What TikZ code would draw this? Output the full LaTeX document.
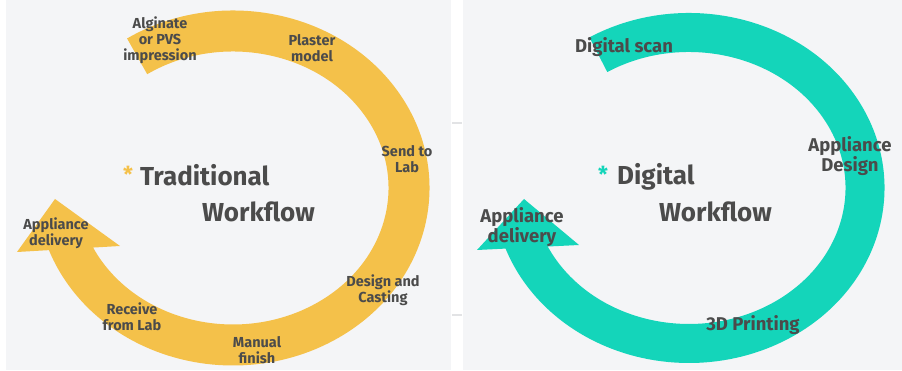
\documentclass[tikz,border=0pt]{standalone}
\usepackage{fontspec}
\setmainfont{Fira Sans}
\definecolor{panel}{HTML}{F4F5F7}
\definecolor{yel}{HTML}{F4C14A}
\definecolor{teal}{HTML}{14D5BA}
\definecolor{txt}{HTML}{4B4B4B}
\definecolor{tickc}{HTML}{E2E3E5}
\begin{document}
\begin{tikzpicture}[x=1pt,y=-1pt,
  lbl/.style={font=\bfseries\fontsize{14.5}{16}\selectfont, text=txt, align=center, inner sep=0pt},
  lblbig/.style={font=\bfseries\fontsize{18.5}{20}\selectfont, text=txt, align=center, inner sep=0pt},
  title/.style={font=\bfseries\fontsize{26}{30}\selectfont, text=txt, inner sep=0pt, anchor=base west},
  star/.style={font=\bfseries\fontsize{22}{24}\selectfont, inner sep=0pt},
  band/.style={line width=#1, line cap=butt}]
\useasboundingbox (0,0) rectangle (902,371);
\fill[white] (0,0) rectangle (902,371);
\fill[panel] (6,0) rectangle (451,370);
\fill[panel] (463,0) rectangle (902,370);
\draw[tickc, line width=1.5] (452,123) -- (462,123) (452,315) -- (462,315);
% left cycle
\draw[yel, band=41] (233,188) ++(-123:176 and 157) arc[start angle=-123, end angle=162, x radius=176, y radius=157];
\fill[yel] (17,252) -- (55,199) -- (120,246) -- cycle;
% right cycle
\draw[teal, band=39] (689,188) ++(-121:176 and 155.5) arc[start angle=-121, end angle=162, x radius=176, y radius=155.5];
\fill[teal] (477,250) -- (524,199) -- (579,245) -- cycle;
% left labels
\node[lbl] (al) at (160,40) {Alginate\\or PVS\\impression};
\node[lbl] (pm) at (312,48) {Plaster\\model};
\node[lbl] (sl) at (407,159) {Send to\\Lab};
\node[lbl] (dc) at (383,290) {Design and\\Casting};
\node[lbl] (mf) at (257,350) {Manual\\finish};
\node[lbl] (rl) at (132,317) {Receive\\from Lab};
\node[lbl] (ad) at (56,233) {Appliance\\delivery};
\node[star, text=yel] (s1) at (128,174) {*};
\node[title] (t1) at (140,186) {Traditional};
\node[title] (t2) at (202,222) {Workflow};
% right labels
\node[lblbig] (ds) at (624,47) {Digital scan};
\node[lblbig] (apd) at (850,156) {Appliance\\Design};
\node[lblbig] (pr) at (753,325) {3D Printing};
\node[lblbig] (ad2) at (522,227) {Appliance\\delivery};
\node[star, text=teal] (s2) at (603,174) {*};
\node[title] (t3) at (617,185) {Digital};
\node[title] (t4) at (659,222) {Workflow};
\end{tikzpicture}
\end{document}
